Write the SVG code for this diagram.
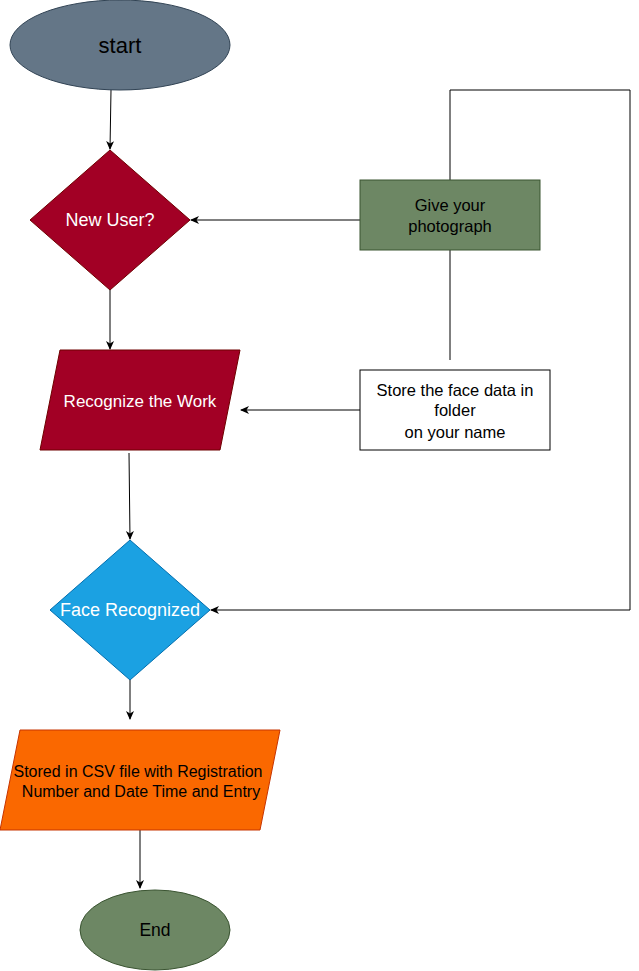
<svg xmlns="http://www.w3.org/2000/svg" width="639" height="971" viewBox="0 0 639 971">
<style>
.lbl{font-family:"Liberation Sans",Arial,sans-serif;text-anchor:middle}
.w{fill:#ffffff}
.k{fill:#000000}
.edge{fill:none;stroke:#000;stroke-width:1}
</style>
<defs>
<marker id="arr" markerWidth="10" markerHeight="10" refX="8" refY="4" orient="auto" markerUnits="userSpaceOnUse">
<path d="M0,0 L9,4 L0,8 L2.5,4 z" fill="#000"/>
</marker>
</defs>
<rect width="639" height="971" fill="#ffffff"/>
<g id="connectors">
<path class="edge" d="M111,90 L110,149" marker-end="url(#arr)"/>
<path class="edge" d="M110,290 L110,349" marker-end="url(#arr)"/>
<path class="edge" d="M129,453 L130,539" marker-end="url(#arr)"/>
<path class="edge" d="M130,680 L130,719" marker-end="url(#arr)"/>
<path class="edge" d="M140,830 L140,888" marker-end="url(#arr)"/>
<path class="edge" d="M360,220 L191,220" marker-end="url(#arr)"/>
<path class="edge" d="M450,250 L450,360"/>
<path class="edge" d="M450,180 L450,90 L630,90 L630,610 L211,610" marker-end="url(#arr)"/>
<path class="edge" d="M360,410 L241,410" marker-end="url(#arr)"/>
</g>
<g id="start">
<ellipse cx="120" cy="45" rx="110" ry="45" fill="#647687" stroke="#314354"/>
<text class="lbl k" x="120" y="53" font-size="22">start</text>
</g>
<g id="new-user">
<polygon points="110,150 190,220 110,290 30,220" fill="#a20025" stroke="#6f0000"/>
<text class="lbl w" x="110" y="226" font-size="18">New User?</text>
</g>
<g id="recognize-work">
<polygon points="60,350 240,350 220,450 40,450" fill="#a20025" stroke="#6f0000"/>
<text class="lbl w" x="140" y="407" font-size="17">Recognize the Work</text>
</g>
<g id="face-recognized">
<polygon points="130,540 210,610 130,680 50,610" fill="#1ba1e2" stroke="#006eaf"/>
<text class="lbl w" x="130" y="616" font-size="18">Face Recognized</text>
</g>
<g id="stored-csv">
<polygon points="20,730 280,730 260,830 0,830" fill="#fa6800" stroke="#c73500"/>
<text class="lbl k" x="138" y="777" font-size="16">Stored in CSV file with Registration</text>
<text class="lbl k" x="141" y="797" font-size="16">Number and Date Time and Entry</text>
</g>
<g id="end">
<ellipse cx="155" cy="930" rx="75" ry="40" fill="#6d8764" stroke="#3a5431"/>
<text class="lbl k" x="155" y="936" font-size="17.5">End</text>
</g>
<g id="give-photo">
<rect x="360" y="180" width="180" height="70" fill="#6d8764" stroke="#3a5431"/>
<text class="lbl k" x="450" y="211" font-size="16.5">Give your</text>
<text class="lbl k" x="450" y="232" font-size="16.5">photograph</text>
</g>
<g id="store-face">
<rect x="360" y="370" width="190" height="80" fill="#ffffff" stroke="#000"/>
<text class="lbl k" x="455" y="396" font-size="16.5">Store the face data in</text>
<text class="lbl k" x="455" y="416" font-size="16.5">folder</text>
<text class="lbl k" x="455" y="438" font-size="16.5">on your name</text>
</g>
</svg>
